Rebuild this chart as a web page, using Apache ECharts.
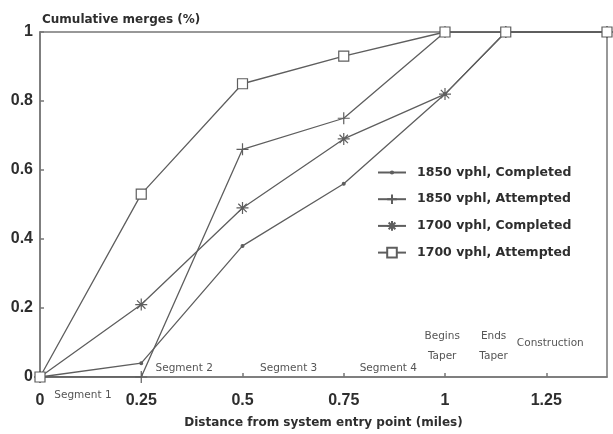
<!DOCTYPE html>
<html><head><meta charset="utf-8">
<script src="https://cdn.jsdelivr.net/npm/echarts@6/dist/echarts.min.js"></script>
<style>html,body{margin:0;padding:0;background:#fff}#c{width:613px;height:434px}</style>
</head><body><div id="c"></div>
<script>
const distances = [0, 0.25, 0.5, 0.75, 1, 1.15, 1.4];
const completed1850 = [0, 0.04, 0.38, 0.56, 0.82, 1, 1];
const attempted1850 = [0, 0, 0.66, 0.75, 1, 1, 1];
const completed1700 = [0, 0.21, 0.49, 0.69, 0.82, 1, 1];
const attempted1700 = [0, 0.53, 0.85, 0.93, 1, 1, 1];
const seriesNames = ['1850 vphl, Completed', '1850 vphl, Attempted', '1700 vphl, Completed', '1700 vphl, Attempted'];
const annotationTexts = ['Segment 1', 'Segment 2', 'Segment 3', 'Segment 4', 'Begins', 'Taper', 'Ends', 'Taper', 'Construction'];
const annotationX = [0.106, 0.356, 0.614, 0.86, 0.993, 0.993, 1.12, 1.12, 1.26];
const annotationY = [-0.054, 0.026, 0.026, 0.026, 0.117, 0.06, 0.117, 0.06, 0.097];

const ink = '#5e5e5e';
const txt = '#2e2e2e';
const pair = arr => distances.map((d, i) => [d, arr[i]]);
const dotPath = 'path://M0,0M12,12M4.6,6a1.4,1.4 0 1 0 2.8,0a1.4,1.4 0 1 0 -2.8,0z';
const plusPath = 'path://M6,0L6,12M0,6L12,6';
const starPath = 'path://M6,0L6,12M0,6L12,6M1.8,1.8L10.2,10.2M1.8,10.2L10.2,1.8';

function mk(name, data, symbol, size, fill) {
  return {
    name, type: 'line', data: pair(data), symbol, symbolSize: size,
    showAllSymbol: true,
    lineStyle: { color: ink, width: 1.3 },
    itemStyle: { color: fill, borderColor: ink, borderWidth: 1.2 },
    emphasis: { disabled: true }
  };
}

const chart = echarts.init(document.getElementById('c'), null, { renderer: 'canvas' });
chart.setOption({
  animation: false,
  backgroundColor: '#fff',
  title: {
    text: 'Cumulative merges (%)', left: 37, top: 9,
    textStyle: { fontFamily: 'DejaVu Sans', fontWeight: 'bold', fontSize: 12, color: txt }
  },
  grid: { left: 40, right: 6, top: 32, bottom: 52, show: true, borderColor: '#777', borderWidth: 1.5, containLabel: false },
  legend: {
    data: seriesNames, orient: 'vertical', left: 372, top: 161,
    itemWidth: 28, itemHeight: 12, itemGap: 13.7,
    textStyle: { fontFamily: 'DejaVu Sans', fontWeight: 'bold', fontSize: 12.5, color: txt, padding: [0, 0, 0, 6] }
  },
  xAxis: {
    type: 'value', min: 0, max: 1.4, interval: 0.25,
    name: 'Distance from system entry point (miles)', nameLocation: 'middle', nameGap: 40,
    nameTextStyle: { fontFamily: 'DejaVu Sans', fontWeight: 'bold', fontSize: 12, color: txt },
    axisLine: { lineStyle: { color: '#777', width: 1.5 } },
    axisTick: { inside: true, length: 4, lineStyle: { color: '#777', width: 1.5 } },
    axisLabel: { showMaxLabel: false, margin: 16, fontFamily: 'Liberation Sans', fontWeight: 'bold', fontSize: 16, color: txt },
    splitLine: { show: false }
  },
  yAxis: {
    type: 'value', min: 0, max: 1, interval: 0.2,
    axisLine: { show: true, lineStyle: { color: '#777', width: 1.5 } },
    axisTick: { show: true, inside: true, length: 4, lineStyle: { color: '#777', width: 1.5 } },
    axisLabel: { margin: 7, fontFamily: 'Liberation Sans', fontWeight: 'bold', fontSize: 16, color: txt },
    splitLine: { show: false }
  },
  series: [
    mk(seriesNames[0], completed1850, dotPath, 12, ink),
    mk(seriesNames[1], attempted1850, plusPath, 12, ink),
    mk(seriesNames[2], completed1700, starPath, 12, ink),
    mk(seriesNames[3], attempted1700, 'rect', 10, '#fff')
  ]
});

const elements = annotationTexts.map((t, i) => {
  const p = chart.convertToPixel({ gridIndex: 0 }, [annotationX[i], annotationY[i]]);
  return {
    type: 'text', x: p[0], y: p[1], silent: true,
    style: { text: t, fill: '#555', font: '10.5px "DejaVu Sans"', align: 'center', verticalAlign: 'middle' }
  };
});
chart.setOption({ graphic: { elements } });
</script>
</body></html>
